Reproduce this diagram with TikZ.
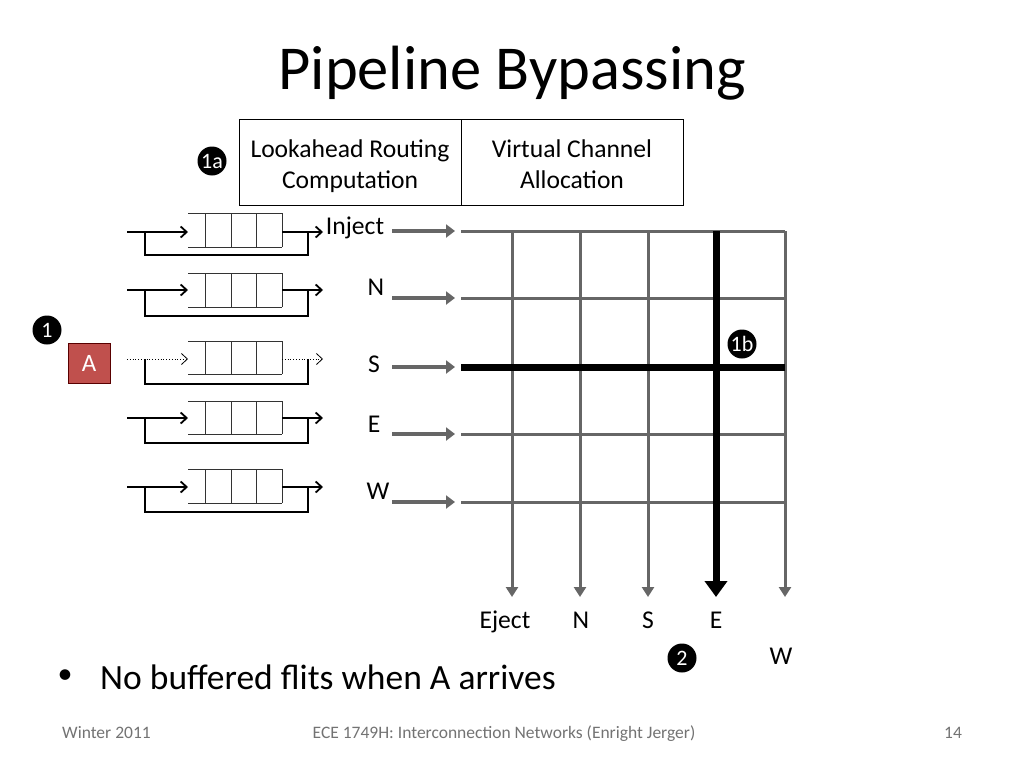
\documentclass[tikz,border=0pt]{standalone}
\usepackage{fontspec}
\setmainfont{Carlito}
\usetikzlibrary{arrows.meta}
\begin{document}
\begin{tikzpicture}[x=1pt,y=-1pt,
  gridline/.style={draw=black!60, line width=3pt},
  gridarrow/.style={gridline, -{Triangle[length=10pt,width=12pt]}},
  inarrow/.style={draw=black!60, line width=3.5pt, -{Triangle[length=9pt,width=13pt]}},
  bigarrow/.style={draw=black, line width=7pt, -{Triangle[length=16pt,width=22pt]}},
  bufline/.style={draw=black!80, line width=0.9pt},
  flow/.style={draw=black, line width=1.8pt, -{Straight Barb[length=6pt,width=11pt]}},
  dflow/.style={draw=black, line width=0.8pt, dotted, -{Straight Barb[length=6pt,width=11pt]}},
  loopline/.style={draw=black, line width=2pt},
  badge/.style={circle, fill=black, text=white, inner sep=0pt, minimum size=29pt, font=\fontsize{22}{22}\selectfont},
  lbl/.style={font=\fontsize{25.6}{25.6}\selectfont, inner sep=0pt, anchor=base},
  stage/.style={draw=black, line width=0.8pt, minimum width=222pt, minimum height=86pt, align=center, font=\fontsize{25.6}{31}\selectfont},
  foot/.style={font=\fontsize{17.5}{17.5}\selectfont, text=black!55, inner sep=0pt, anchor=base}
]
\useasboundingbox[fill=white] (0,0) rectangle (1024,768);

% title
\node[font=\fontsize{62.5}{62.5}\selectfont, inner sep=0pt] (title) at (512,73) {Pipeline Bypassing};

% pipeline stage boxes
\node[stage] (lrc) at (350,162) {\rule{0pt}{31.7pt}Lookahead Routing\\\strut Computation};
\node[stage] (vca) at (572,162) {\rule{0pt}{31.7pt}Virtual Channel\\\strut Allocation};
\node[badge] (b1a) at (212,161) {1a};

% input buffers
\foreach \ay/\top/\bot/\lb/\nm in {232/213/247/255/r1, 290/273/307/316/r2, 359/341/374/384/r3, 418/401/434/443/r4, 487/469/503/512/r5}{
  \draw[bufline] (188,\top) -- (282,\top);
  \draw[bufline] (188,\bot) -- (282,\bot);
  \foreach \xx in {205,231,256,282} \draw[bufline] (\xx,\top) -- (\xx,\bot);
  \coordinate (\nm-in) at (127,\ay);
  \coordinate (\nm-bin) at (188,\ay);
  \coordinate (\nm-bout) at (282,\ay);
  \coordinate (\nm-out) at (323,\ay);
  \draw[loopline] (145,\ay) -- (145,\lb) -- (308,\lb) -- (308,\ay);
}
\foreach \nm in {r1,r2,r4,r5}{
  \draw[flow] (\nm-in) -- (\nm-bin);
  \draw[flow] (\nm-bout) -- (\nm-out);
}
\draw[dflow] (r3-in) -- (r3-bin);
\draw[dflow] (r3-bout) -- (r3-out);

% packet A
\node[badge] (b1) at (47,330) {1};
\node[draw=red!35!black, line width=0.6pt, fill={rgb,255:red,192;green,80;blue,77}, text=white, minimum width=42pt, minimum height=40pt, inner sep=0pt, font=\fontsize{25}{25}\selectfont] (A) at (89,363) {A};

% input labels
\node[lbl] (lin) at (355,234) {Inject};
\node[lbl] (ln) at (376,295) {N};
\node[lbl] (ls) at (374,372) {S};
\node[lbl] (le) at (374,432) {E};
\node[lbl] (lw) at (378,499) {W};

% crossbar
\foreach \y/\nm in {231/h1, 298/h2, 367/h3, 434/h4, 502/h5}{
  \coordinate (\nm-a) at (392,\y);
  \coordinate (\nm-l) at (461,\y);
  \coordinate (\nm-r) at (785,\y);
  \draw[inarrow] (\nm-a) -- (455,\y);
}
\foreach \nm in {h1,h2,h4,h5} \draw[gridline] (\nm-l) -- (\nm-r);
\foreach \x/\nm in {512/v1, 580/v2, 648/v3, 716/v4, 785/v5}{
  \coordinate (\nm-t) at (\x,231);
  \coordinate (\nm-b) at (\x,597);
}
\foreach \nm in {v1,v2,v3,v5} \draw[gridarrow] (\nm-t) -- (\nm-b);
\draw[draw=black, line width=7pt] (h3-l) -- (h3-r);
\draw[bigarrow] (v4-t) -- (v4-b);
\node[badge] (b1b) at (742,344) {1b};

% output labels
\node[lbl] (oej) at (505,628) {Eject};
\node[lbl] (on) at (581,628) {N};
\node[lbl] (os) at (648,628) {S};
\node[lbl] (oe) at (716,628) {E};
\node[lbl] (ow) at (781,664) {W};
\node[badge] (b2) at (682,658) {2};

% bullet
\node[font=\fontsize{30}{30}\selectfont, inner sep=0pt] (dot) at (65,677) {\textbullet};
\node[anchor=west, font=\fontsize{35.5}{35.5}\selectfont, inner sep=0pt] (bul) at (100,677) {No buffered flits when A arrives};

% footer
\node[foot, anchor=base west] (f1) at (62,738) {Winter 2011};
\node[foot] (f2) at (504,738) {ECE 1749H: Interconnection Networks (Enright Jerger)};
\node[foot] (f3) at (953,738) {14};
\end{tikzpicture}
\end{document}
